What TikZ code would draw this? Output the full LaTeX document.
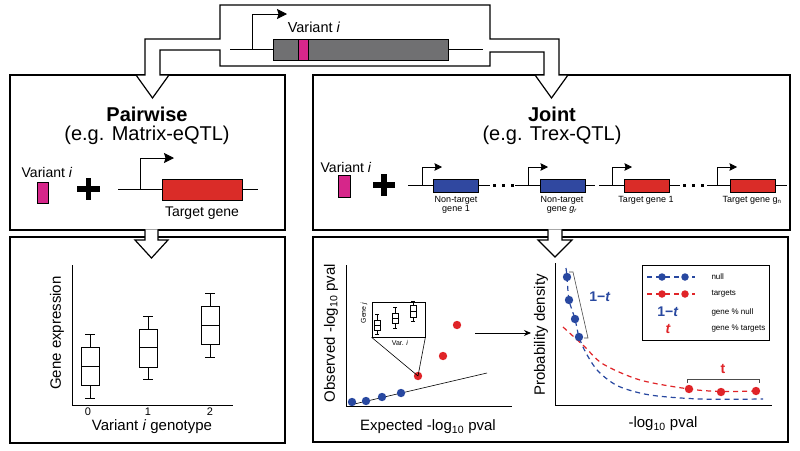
\documentclass[tikz,border=0pt]{standalone}
\usepackage{fontspec}
\setmainfont{Liberation Sans}
\usetikzlibrary{arrows.meta}

\newlength{\du}
\setlength{\du}{1pt}
\newcommand{\fsz}[1]{\fontsize{#1}{#1}\selectfont}

\definecolor{genered}{RGB}{218,44,40}
\definecolor{geneblue}{RGB}{48,72,160}
\definecolor{varpink}{RGB}{214,38,138}
\definecolor{genegray}{RGB}{112,112,114}
\definecolor{dotblue}{RGB}{40,72,160}
\definecolor{dotred}{RGB}{224,36,40}

\tikzset{
  panel/.style={draw=black, line width=1.3pt, fill=white},
  hollow/.style={draw=black, line width=1.2pt, fill=white},
  gene/.style={draw=black, line width=0.9pt},
  dna/.style={line width=0.9pt},
  promoter/.style={line width=1pt, -{Stealth[length=10pt,width=10pt,inset=1.5pt]}},
  smallpromoter/.style={line width=0.8pt, -{Stealth[length=7.5pt,width=7.5pt,inset=1pt]}},
  axis/.style={line width=0.9pt},
  bxp/.style={line width=0.6pt},
  bdot/.style={circle, fill=dotblue, inner sep=0pt, minimum size=8.4pt},
  rdot/.style={circle, fill=dotred, inner sep=0pt, minimum size=8.4pt},
  bdash/.style={dotblue, line width=1.2pt, dash pattern=on 5pt off 4pt},
  rdash/.style={dotred, line width=1.2pt, dash pattern=on 5pt off 4pt},
  lbl/.style={inner sep=0pt, font=\fsz{15}},
  tick/.style={inner sep=0pt, font=\fsz{11}}
}

\begin{document}
\begin{tikzpicture}
\pgftransformyscale{-1.000000}
\useasboundingbox (0\du,0\du) rectangle (800\du,450\du);
\fill[white] (0\du,0\du) rectangle (800\du,450\du);

% panels
\draw[panel] (10\du,75\du) rectangle (285\du,230\du);
\draw[panel] (313\du,75\du) rectangle (790\du,230\du);
\draw[panel] (10\du,237\du) rectangle (285\du,443\du);
\draw[panel] (313\du,237\du) rectangle (788\du,442\du);

% top box and the two arrows out of it
\draw[hollow] (220\du,5\du)--(490\du,5\du)--(490\du,39\du)--(559\du,39\du)--(559\du,75\du)--(568\du,75\du)
  --(551.5\du,98\du)--(535\du,75\du)--(544\du,75\du)--(544\du,52\du)--(490\du,52\du)--(490\du,66\du)
  --(220\du,66\du)--(220\du,50\du)--(160\du,50\du)--(160\du,75\du)--(169\du,75\du)--(152.5\du,98\du)
  --(136\du,75\du)--(145\du,75\du)--(145\du,39\du)--(220\du,39\du)--cycle;
\draw[dna] (230\du,49\du)--(483\du,49\du);
\draw[gene, fill=genegray] (273\du,39\du) rectangle (448\du,60\du);
\draw[gene, fill=varpink] (298\du,39\du) rectangle (308\du,60\du);
\draw[promoter] (252\du,49\du)--(252\du,14\du)--(287\du,14\du);
\node[font=\fsz{14.5}] (topvar) at (314\du,27\du) {Variant \textit{i}};

% arrows down to the lower panels
\draw[hollow] (145\du,229.4\du)--(145\du,240\du)--(135\du,240\du)--(151.5\du,258\du)--(168\du,240\du)--(158\du,240\du)--(158\du,229.4\du);
\draw[hollow] (548\du,229.4\du)--(548\du,240\du)--(538\du,240\du)--(555\du,257\du)--(572\du,240\du)--(562\du,240\du)--(562\du,229.4\du);

% pairwise
\node[font=\bfseries\fsz{20}] (pwtitle) at (147\du,114\du) {Pairwise};
\node[font=\fsz{20}] (pwsub) at (147\du,135\du) {(e.g. Matrix-eQTL)};
\node[font=\fsz{14}] (pwvar) at (47\du,172\du) {Variant \textit{i}};
\draw[gene, fill=varpink] (37\du,182\du) rectangle (48\du,203\du);
\draw[line width=5.5pt] (77\du,189\du)--(100\du,189\du) (88.5\du,178\du)--(88.5\du,200\du);
\draw[dna] (118\du,189\du)--(258\du,189\du);
\draw[gene, fill=genered] (162\du,179\du) rectangle (242\du,200\du);
\draw[promoter] (140\du,189\du)--(140\du,158\du)--(174\du,158\du);
\node[font=\fsz{14}] (pwtarget) at (202\du,213\du) {Target gene};

% joint
\node[font=\bfseries\fsz{20}] (jtitle) at (552\du,114\du) {Joint};
\node[font=\fsz{20}] (jsub) at (552\du,135\du) {(e.g. Trex-QTL)};
\node[font=\fsz{14}] (jvar) at (346\du,167\du) {Variant \textit{i}};
\draw[gene, fill=varpink] (338\du,175\du) rectangle (350\du,197\du);
\draw[line width=5.5pt] (373\du,185\du)--(395\du,185\du) (384\du,174\du)--(384\du,196\du);
\draw[dna] (408\du,185\du)--(490\du,185\du) (515\du,185\du)--(595\du,185\du);
\draw[dna] (599\du,185\du)--(680\du,185\du) (707\du,185\du)--(787\du,185\du);
\foreach \d in {494,503,512,684,693,702}
  \fill (\d\du-1.5\du,183.5\du) rectangle (\d\du+1.5\du,186.5\du);
\draw[gene, fill=geneblue] (433\du,179\du) rectangle (478\du,192\du);
\draw[gene, fill=geneblue] (540\du,179\du) rectangle (585\du,192\du);
\draw[gene, fill=genered] (624\du,179\du) rectangle (669\du,192\du);
\draw[gene, fill=genered] (730\du,179\du) rectangle (775\du,192\du);
\foreach \p in {422,528,612,717}
  \draw[smallpromoter] (\p\du,185\du)--(\p\du,167\du)--(\p\du+20\du,167\du);
\node[font=\fsz{9}, align=center] (ntg1) at (456\du,205\du) {Non-target\\gene 1};
\node[font=\fsz{9}, align=center] (ntgr) at (562\du,205\du) {Non-target\\gene \textit{g}\textsubscript{\textit{r}}};
\node[font=\fsz{9}] (tg1) at (646\du,200\du) {Target gene 1};
\node[font=\fsz{9}] (tgn) at (752\du,200\du) {Target gene g\textsubscript{n}};

% box plot
\draw[axis] (72\du,265\du)--(72\du,405\du)--(233\du,405\du);
\foreach \x/\lo/\qa/\md/\qb/\hi in {90/398/385/366/347/334,148/379/367/347/329/316,210/357/344/325/306/293}{
  \pgfmathsetmacro\xl{\x-9}
  \pgfmathsetmacro\xr{\x+9}
  \pgfmathsetmacro\cl{\x-5}
  \pgfmathsetmacro\cr{\x+5}
  \draw[bxp] (\xl\du,\qa\du) rectangle (\xr\du,\qb\du);
  \draw[bxp] (\xl\du,\md\du)--(\xr\du,\md\du);
  \draw[bxp] (\x\du,\qa\du)--(\x\du,\lo\du) (\cl\du,\lo\du)--(\cr\du,\lo\du);
  \draw[bxp] (\x\du,\qb\du)--(\x\du,\hi\du) (\cl\du,\hi\du)--(\cr\du,\hi\du);
}
\node[tick] (g0) at (88\du,412\du) {0};
\node[tick] (g1) at (148\du,412\du) {1};
\node[tick] (g2) at (210\du,412\du) {2};
\node[lbl] (bxpx) at (152\du,427\du) {Variant \textit{i} genotype};
\node[lbl, rotate=90] (bxpy) at (57\du,333\du) {Gene expression};

% qq plot
\draw[axis] (346\du,265\du)--(346\du,406\du)--(512\du,406\du);
\coordinate (qqa) at (350\du,405\du);
\coordinate (qqb) at (487\du,373\du);
\draw[bxp] (qqa)--(qqb);
\node[bdot] (b1) at (352\du,402\du) {};
\node[bdot] (b2) at (366\du,401\du) {};
\node[bdot] (b3) at (382\du,397\du) {};
\node[bdot] (b4) at (401\du,393\du) {};
\node[rdot] (hit) at (418\du,376\du) {};
\node[rdot] (r2) at (443\du,356\du) {};
\node[rdot] (r3) at (457\du,325\du) {};
\node[draw, line width=0.7pt, minimum width=53pt, minimum height=35pt, inner sep=0pt] (inset) at (398.5\du,319.5\du) {};
\draw[bxp] (inset.south west)--(hit.center);
\draw[bxp] (inset.south east)--(hit.center);
\foreach \x/\lo/\qa/\md/\qb/\hi in {377/334/330/325/320/314,395/328/323/318/313/307,413/321/317/311/305/301}{
  \pgfmathsetmacro\xl{\x-2.8}
  \pgfmathsetmacro\xr{\x+2.8}
  \pgfmathsetmacro\cl{\x-2}
  \pgfmathsetmacro\cr{\x+2}
  \draw[line width=0.4pt] (\xl\du,\qa\du) rectangle (\xr\du,\qb\du);
  \draw[line width=0.4pt] (\xl\du,\md\du)--(\xr\du,\md\du);
  \draw[line width=0.4pt] (\x\du,\qa\du)--(\x\du,\lo\du) (\cl\du,\lo\du)--(\cr\du,\lo\du);
  \draw[line width=0.4pt] (\x\du,\qb\du)--(\x\du,\hi\du) (\cl\du,\hi\du)--(\cr\du,\hi\du);
}
\node[font=\fsz{7}, rotate=90] (genej) at (364\du,313\du) {Gene \textit{j}};
\node[font=\fsz{7}] (vari) at (400\du,343\du) {Var. \textit{i}};
\node[lbl, rotate=90] (qqy) at (331\du,333\du) {Observed -log\textsubscript{10} pval};
\node[lbl] (qqx) at (428\du,427\du) {Expected -log\textsubscript{10} pval};
\coordinate (qqout) at (475\du,333\du);
\coordinate (pdin) at (531\du,333\du);
\draw[line width=0.9pt, -{Stealth[length=7pt,width=6pt]}] (qqout)--(pdin);

% density plot
\draw[axis] (555\du,263\du)--(555\du,405\du)--(772\du,405\du);
\draw[bdash] plot[smooth] coordinates {(566\du,268\du) (567\du,277\du) (569\du,300\du) (575\du,319\du) (579\du,337\du) (586\du,353\du) (598\du,371\du) (618\du,386\du) (650\du,395\du) (700\du,399\du) (763\du,399\du)};
\draw[rdash] plot[smooth] coordinates {(563\du,327\du) (574\du,337\du) (585\du,347\du) (603\du,364\du) (640\du,380\du) (689\du,389\du) (721\du,391.5\du) (756\du,391\du)};
\node[bdot] (p1) at (567\du,277\du) {};
\node[bdot] (p2) at (569\du,300\du) {};
\node[bdot] (p3) at (575\du,319\du) {};
\node[bdot] (p4) at (579\du,337\du) {};
\node[rdot] (t1) at (689\du,389\du) {};
\node[rdot] (t2) at (721\du,392\du) {};
\node[rdot] (t3) at (756\du,391\du) {};
\draw[line width=0.6pt, black!70] (569\du,272\du)--(573\du,272\du)--(588\du,338\du)--(584\du,338\du);
\node[font=\bfseries\fsz{14}, text=dotblue] (onet) at (600\du,297\du) {1−\textit{t}};
\draw[line width=0.6pt, black!70] (687\du,383\du)--(687\du,379\du)--(759\du,379\du)--(759\du,383\du);
\node[font=\bfseries\fsz{14}, text=dotred] (tt) at (723\du,369\du) {t};
\node[lbl, rotate=90] (pdy) at (541\du,335\du) {Probability density};
\node[lbl] (pdx) at (663\du,424\du) {-log\textsubscript{10} pval};

% legend
\draw[line width=0.8pt] (642\du,265\du) rectangle (769\du,340\du);
\draw[bdash] (647\du,277\du)--(695\du,277\du);
\node[bdot, minimum size=7.5pt] (lb1) at (662\du,277\du) {};
\node[bdot, minimum size=7.5pt] (lb2) at (685\du,277\du) {};
\draw[rdash] (647\du,294\du)--(695\du,294\du);
\node[rdot, minimum size=7.5pt] (lr1) at (662\du,294\du) {};
\node[rdot, minimum size=7.5pt] (lr2) at (685\du,294\du) {};
\node[font=\bfseries\fsz{14}, text=dotblue] (lonet) at (668\du,312\du) {1−\textit{t}};
\node[font=\bfseries\itshape\fsz{14}, text=dotred] (lt) at (668\du,329\du) {t};
\node[anchor=west, font=\fsz{8}] (lnull) at (708\du,277\du) {null};
\node[anchor=west, font=\fsz{8}] (ltarg) at (708\du,294\du) {targets};
\node[anchor=west, font=\fsz{8}] (lgn) at (708\du,312\du) {gene \% null};
\node[anchor=west, font=\fsz{8}] (lgt) at (708\du,329\du) {gene \% targets};
\end{tikzpicture}
\end{document}
